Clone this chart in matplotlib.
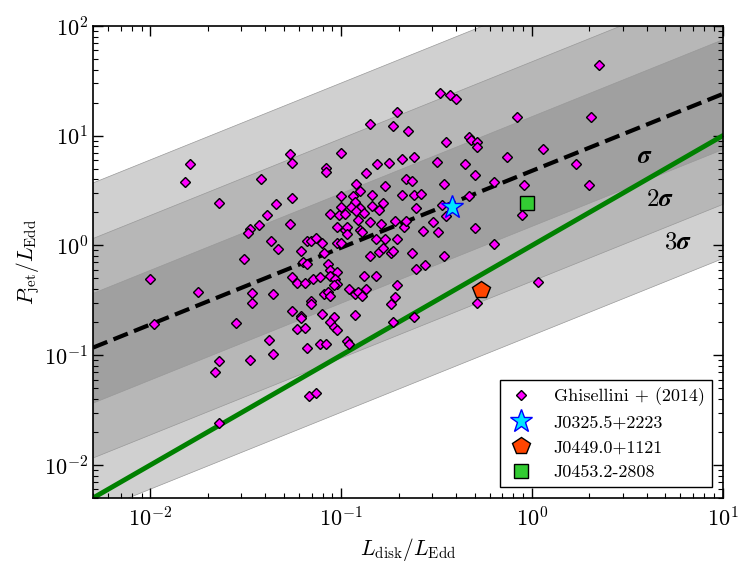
import numpy as np
import matplotlib
matplotlib.use('Agg')
import matplotlib.pyplot as plt

plt.rcParams['font.family'] = 'serif'
plt.rcParams['font.serif'] = ['cmr10']
plt.rcParams['mathtext.fontset'] = 'cm'
plt.rcParams['axes.unicode_minus'] = False
plt.rcParams['axes.formatter.use_mathtext'] = True

# Ghisellini+ (2014) sample (log10 values)
log_ldisk = [
    -1.79, -1.82, -1.64, -1.48, -1.49, -1.51, -2.00, -1.75, -1.47, -1.47, -1.98, -1.55, -1.64, -1.66, -1.48, -1.64,
    -0.71, -0.85, -0.73, -0.65, -1.27, -1.26, -1.00, -1.08, -1.08, -0.87, -0.81, -0.75, -0.68, -0.62, -1.42, -1.34,
    -1.26, -1.39, -0.92, -0.90, -1.00, -0.94, -0.84, -0.77, -0.66, -0.63, -0.68, -0.62, -0.58, -0.93, -1.00, -0.95,
    -0.90, -0.84, -0.78, -1.06, -1.01, -0.98, -0.92, -0.88, -0.80, -0.61,
    -1.43, -1.27, -1.37, -1.33, -1.21, -1.20, -1.18, -1.18, -1.16, -1.13, -1.10, -1.09, -1.02, -0.98, -0.97, -0.97,
    -1.02, -1.00, -0.90, -0.89, -0.85, -0.79, -0.72, -0.67, -0.66, -0.91, -0.82, -0.77, -0.71, -0.85, -0.80, -0.78,
    -0.74, -0.73, -0.63, -0.61, -1.07, -1.06, -1.02, -1.26, -1.23, -1.19, -1.15, -1.11, -1.06, -1.03, -1.02, -1.04,
    -0.88, -0.82, -1.36, -1.16, -1.16, -1.09, -1.07, -1.06, -0.96, -0.93, -0.91, -0.89, -0.87, -0.71, -0.72, -0.74,
    -1.26, -1.21, -1.21, -1.10, -1.04, -1.06, -0.93, -1.23, -1.19, -1.04, -1.02, -0.73, -1.38, -1.18, -1.11, -1.08,
    -0.97, -0.96, -0.62, -1.36, -1.17, -1.13,
    0.35, -0.48, -0.43, -0.40, -0.08, 0.31, -0.45, -0.33, -0.32, -0.29, -0.29, -0.50, -0.35, -0.13, 0.06, 0.23,
    -0.46, -0.30, -0.20, -0.04, 0.30, -0.33, -0.47, -0.45, -0.05, -0.52, -0.57, -0.49, -0.30, -0.46, -0.20, -0.56,
    0.03, -0.29,
]
log_pjet = [
    0.74, 0.58, 0.39, 0.15, 0.11, -0.12, -0.31, -0.42, -0.43, -0.52, -0.72, -0.71, -1.05, -1.15, -1.04, -1.62,
    1.22, 1.11, 1.09, 1.04, 0.83, 0.75, 0.84, 0.71, 0.67, 0.66, 0.74, 0.75, 0.79, 0.81, 0.61, 0.38,
    0.43, 0.28, 0.56, 0.50, 0.45, 0.45, 0.46, 0.54, 0.61, 0.59, 0.46, 0.46, 0.47, 0.40, 0.35, 0.35,
    0.34, 0.36, 0.39, 0.29, 0.28, 0.29, 0.31, 0.30, 0.32, 0.34,
    0.19, 0.20, 0.04, -0.03, -0.05, -0.15, -0.17, 0.04, 0.04, 0.07, 0.02, -0.07, 0.17, 0.14, 0.17, 0.10,
    0.02, 0.02, 0.14, 0.12, 0.21, 0.20, 0.22, 0.17, 0.22, 0.23, 0.06, 0.06, 0.06, -0.10, -0.06, -0.02,
    -0.07, -0.05, -0.07, -0.21, -0.17, -0.22, -0.24, -0.29, -0.34, -0.34, -0.31, -0.29, -0.28, -0.31, -0.35, -0.36,
    -0.28, -0.28, -0.44, -0.51, -0.53, -0.44, -0.42, -0.46, -0.40, -0.44, -0.42, -0.46, -0.40, -0.36, -0.47, -0.53,
    -0.60, -0.64, -0.66, -0.62, -0.65, -0.70, -0.63, -0.76, -0.75, -0.74, -0.77, -0.70, -0.86, -0.93, -0.90, -0.90,
    -0.87, -0.90, -0.65, -0.99, -1.37, -1.34,
    1.64, 1.39, 1.37, 1.33, 1.17, 1.17, 0.94, 0.99, 0.96, 0.94, 0.90, 0.76, 0.74, 0.81, 0.88, 0.74,
    0.56, 0.64, 0.58, 0.55, 0.55, 0.45, 0.37, 0.27, 0.28, 0.21, 0.13, 0.12, 0.16, -0.10, 0.01, -0.18,
    -0.33, -0.52,
]

# the three sources
src_names = ['J0325.5+2223', 'J0449.0+1121', 'J0453.2-2808']
src_ldisk = [0.38, 0.54, 0.94]
src_pjet = [2.25, 0.39, 2.43]

# fit: log Pjet = slope * log Ldisk + icpt, scatter sigma (dex)
slope = 0.70
icpt = 0.68
sigma = 0.50

fig = plt.figure(figsize=(7.47, 5.64), dpi=100)
ax = fig.add_axes([0.1245, 0.117, 0.843, 0.837])

xx = np.logspace(np.log10(5e-3), 1, 200)
yfit = 10 ** (slope * np.log10(xx) + icpt)
band_cols = ['#d0d0d0', '#b7b7b7', '#a0a0a0']
for n, c in zip([3, 2, 1], band_cols):
    ax.fill_between(xx, yfit * 10 ** (-n * sigma), yfit * 10 ** (n * sigma),
                    facecolor=c, edgecolor='#999999', lw=0.5, zorder=1)

ax.plot(xx, xx, color='green', lw=3.5, zorder=2)
ax.plot(xx, yfit, 'k--', lw=3, zorder=3)

ax.plot(10 ** np.array(log_ldisk), 10 ** np.array(log_pjet), 'D', color='magenta',
        mec='k', mew=1.0, ms=5.5, ls='none', zorder=4, label='Ghisellini + (2014)')
ax.plot(src_ldisk[0], src_pjet[0], '*', color='#00e5ff', mec='blue', mew=1.0, ms=17,
        ls='none', zorder=5, label=src_names[0])
ax.plot(src_ldisk[1], src_pjet[1], 'p', color='#ff4500', mec='k', mew=1.0, ms=13,
        ls='none', zorder=5, label=src_names[1])
ax.plot(src_ldisk[2], src_pjet[2], 's', color='#33cc33', mec='k', mew=1.0, ms=10,
        ls='none', zorder=5, label=src_names[2])

ax.text(3.88, 6.47, r'$\boldsymbol{\sigma}$', fontsize=18, ha='center', va='center', zorder=6)
ax.text(4.66, 2.61, r'$2\boldsymbol{\sigma}$', fontsize=18, ha='center', va='center', zorder=6)
ax.text(5.80, 1.06, r'$3\boldsymbol{\sigma}$', fontsize=18, ha='center', va='center', zorder=6)

ax.set_xscale('log')
ax.set_yscale('log')
ax.set_xlim(5e-3, 10)
ax.set_ylim(5e-3, 100)
ax.set_xlabel(r'$L_{\rm disk}/L_{\rm Edd}$', fontsize=15.5, labelpad=4)
ax.set_ylabel(r'$P_{\rm jet}/L_{\rm Edd}$', fontsize=15.5, labelpad=1)
ax.tick_params(which='both', direction='in', top=True, right=True, labelsize=16)
ax.tick_params(which='major', length=7, width=1)
ax.tick_params(which='minor', length=3.5, width=0.8)
ax.tick_params(axis='x', pad=6)
for s in ax.spines.values():
    s.set_linewidth(1.2)

leg = ax.legend(loc='lower right', fontsize=13, numpoints=1, fancybox=False,
                framealpha=1, edgecolor='k', borderaxespad=0.6, handletextpad=1.0,
                handlelength=1.6)
leg.get_frame().set_linewidth(1.0)

fig.savefig('out.png', dpi=100)
